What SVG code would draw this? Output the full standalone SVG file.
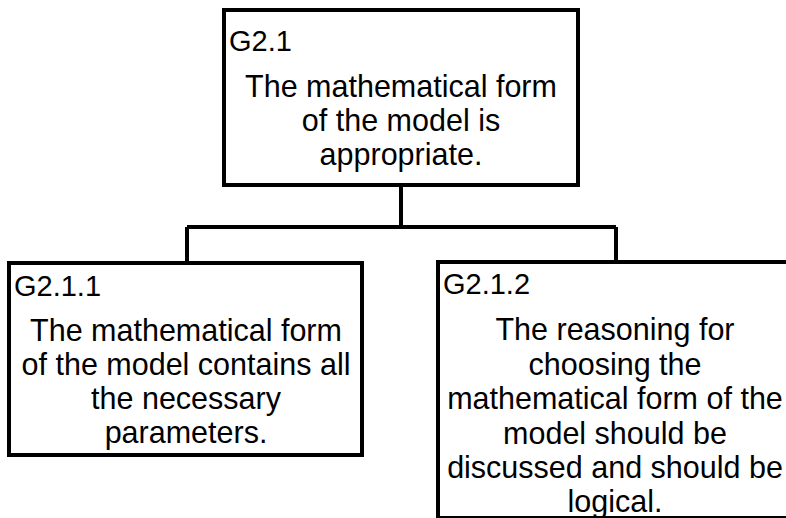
<svg xmlns="http://www.w3.org/2000/svg" width="786" height="518" viewBox="0 0 786 518">
<style>
.box{fill:#fff;stroke:#000;stroke-width:4}
.conn{fill:none;stroke:#000;stroke-width:4}
.lbl{font-family:"Liberation Sans",Arial,sans-serif;font-size:29px;fill:#000}
.body{font-family:"Liberation Sans",Arial,sans-serif;font-size:30.5px;fill:#000;text-anchor:middle}
</style>
<rect width="786" height="518" fill="#fff"/>
<g id="connectors">
<path class="conn" d="M401 185 V227 M187 227 H616 M187 227 V263 M616 227 V262"/>
</g>
<g id="G2.1">
<rect class="box" x="224" y="10" width="354" height="175"/>
<text class="lbl" x="229" y="51">G2.1</text>
<text class="body" x="401" y="97">The mathematical form</text>
<text class="body" x="401" y="131">of the model is</text>
<text class="body" x="401" y="165">appropriate.</text>
</g>
<g id="G2.1.1">
<rect class="box" x="9" y="263" width="353" height="192"/>
<text class="lbl" x="14" y="296">G2.1.1</text>
<text class="body" x="186" y="341">The mathematical form</text>
<text class="body" x="186" y="375">of the model contains all</text>
<text class="body" x="186" y="409">the necessary</text>
<text class="body" x="186" y="443">parameters.</text>
</g>
<g id="G2.1.2">
<rect class="box" x="438" y="262" width="356" height="256"/>
<text class="lbl" x="443" y="294">G2.1.2</text>
<text class="body" x="615" y="340">The reasoning for</text>
<text class="body" x="615" y="375">choosing the</text>
<text class="body" x="615" y="409">mathematical form of the</text>
<text class="body" x="615" y="444">model should be</text>
<text class="body" x="615" y="478">discussed and should be</text>
<text class="body" x="615" y="512">logical.</text>
</g>
</svg>
